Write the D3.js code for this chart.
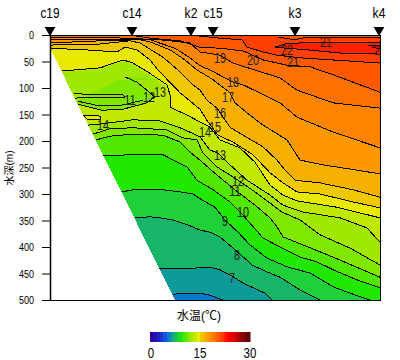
<!DOCTYPE html>
<html>
<head>
<meta charset="utf-8">
<script src="https://cdn.jsdelivr.net/npm/d3@7"></script>
<style>
body { margin: 0; background: #fff; }
text { font-family: "Liberation Sans", "Noto Sans CJK JP", sans-serif; fill: #000; }
</style>
</head>
<body>
<div id="chart"></div>
<script>
// stations along the section (distance, name)
const stationNames = ["c19", "c14", "k2", "c15", "k3", "k4"];
const stationDist = [0, 82, 141, 163, 245, 329];
const depthTicks = [0, 50, 100, 150, 200, 250, 300, 350, 400, 450, 500];
const seabed = [[0, 25], [125, 500], [0, 500]];

// one colour per degree, 0-30
const bandColors = ["#2a00a0", "#2410ac", "#1c24bc", "#1838cc", "#1050e0", "#0878d0", "#0f9a9a", "#18b468", "#20d038", "#20e800",
    "#50e800", "#80e800", "#a0e800", "#c0e800", "#e8e800", "#f0c800", "#f8b000", "#ff9800", "#ff8400", "#ff7000",
    "#ff5800", "#ff4000", "#ff2000", "#ff0000", "#e80000", "#d00000", "#b00000", "#900000", "#780000", "#600000"];

// isotherms as [distance, depth(m)]
const iso6 = [[123,489],[140,487],[150,487],[160,491],[167,496],[173,500]];
const iso7 = [[109,440],[125,440],[143,440],[160,438],[170,443],[182,455],[195,470],[215,487],[222,500]];
const iso8 = [[85,345],[100,343],[110,345],[123,349],[140,360],[150,368],[160,372],[170,381],[183,402],[197,425],[202,434],[217,447],[230,457],[250,481],[270,500]];
const iso9 = [[72,296],[83,292],[113,292],[130,296],[143,300],[150,309],[165,325],[175,349],[188,372],[200,396],[217,421],[238,438],[260,449],[283,475],[310,494],[320,500]];
const iso10 = [[53,228],[80,226],[113,226],[137,249],[147,274],[163,292],[180,315],[193,340],[213,383],[230,400],[250,419],[267,428],[283,443],[307,462],[330,477]];
const iso11 = [[46,198],[60,191],[83,187],[113,189],[130,202],[140,221],[150,236],[163,258],[185,292],[205,321],[220,345],[227,362],[233,381],[253,396],[283,419],[330,457]];
const iso12 = [[43,187],[60,177],[83,175],[117,179],[133,194],[147,198],[153,223],[167,249],[180,264],[188,274],[205,296],[220,317],[232,334],[250,349],[270,377],[300,402],[330,434]];
const iso13 = [[38,170],[50,168],[83,160],[110,162],[130,175],[150,192],[160,217],[168,223],[180,245],[197,274],[220,302],[233,321],[253,334],[290,345],[317,364],[330,391]];
const iso14 = [[12,68],[50,62],[73,47],[83,53],[98,70],[117,94],[120,113],[120,136],[137,151],[150,164],[160,174],[170,198],[190,213],[205,240],[220,283],[233,302],[247,313],[287,325],[330,345]];
const iso15 = [[1,25],[35,28],[67,32],[75,23],[87,28],[100,47],[108,66],[130,109],[150,140],[158,164],[168,189],[183,202],[203,226],[208,236],[220,260],[233,279],[247,296],[270,300],[303,315],[330,326]];
const iso16 = [[0,19],[50,17],[80,11],[90,15],[113,42],[128,66],[143,94],[150,104],[157,123],[167,138],[180,174],[193,189],[213,211],[227,236],[235,255],[245,274],[270,279],[303,292],[330,306]];
const iso17 = [[0,15],[50,11],[90,9],[100,13],[120,28],[135,47],[147,66],[162,83],[180,109],[185,128],[197,147],[213,170],[237,198],[250,236],[273,245],[307,255],[330,262]];
const iso18 = [[0,9],[50,8],[100,9],[125,25],[140,43],[150,58],[160,66],[183,89],[193,94],[230,128],[247,155],[283,183],[330,213]];
const iso19 = [[0,4],[50,4],[110,9],[140,15],[150,32],[170,38],[183,53],[230,81],[247,104],[283,128],[330,138]];
const iso20 = [[80,0],[100,6],[130,11],[150,23],[170,25],[193,30],[213,47],[237,57],[260,60],[283,75],[330,108]];
const iso21 = [[140,0],[170,6],[192,9],[197,23],[213,32],[227,38],[250,43],[330,53]];

const isoLevels = [6, 7, 8, 9, 10, 11, 12, 13, 14, 15, 16, 17, 18, 19, 20, 21];
const isoLines = [iso6, iso7, iso8, iso9, iso10, iso11, iso12, iso13, iso14, iso15, iso16, iso17, iso18, iso19, iso20, iso21];

// closed patches that do not follow the layering (inversions, warm core)
const surface21 = [[228,0],[228,4],[245,9],[257,4],[313,4],[330,4],[330,0]];
const core22 = [[225,23],[235,17],[250,15],[290,15],[330,15],[330,36],[290,34],[257,28],[237,25]];
const core23 = [[318,19],[330,19],[330,26],[322,23]];
const wedge14 = [[33,151],[50,153],[51,160],[38,160]];
const mid13 = [[12,70],[50,65],[73,50],[83,56],[96,72],[112,94],[105,117],[73,140],[52,142],[22,128]];
const cold13 = [[68,85],[118,85],[75,79],[87,89],[93,98],[105,117],[97,128],[73,140],[52,142],[22,128]];
const cold12 = [[93,123],[73,132],[50,134],[28,125]];
const cold11a = [[24,111],[73,113],[75,117]];
const cold11b = [[75,117],[24,119]];

// contour labels
const labelText = ["7","8","9","10","11","12","13","14","15","16","17","18","19","20","21","22","21","2","11","12","13","14"];
const labelDist = [182,187,175,193,185,188,170,155,165,170,178,183,170,203,243,237,276,327,80,99,110,53];
const labelDepth = [458,415,351,334,294,275,226,183,174,147,117,89,43,47,51,28,13,28,123,117,108,170];

const width = 400, height = 360;
const svg = d3.select("#chart").append("svg").attr("width", width).attr("height", height);

const x = d3.scaleLinear().domain([0, 330]).range([50, 380]);
const y = d3.scaleLinear().domain([0, 500]).range([35, 300]);
const line = d3.line().x(d => x(d[0])).y(d => y(d[1]));

const plot = svg.append("g").attr("shape-rendering", "crispEdges");

// fill everything above each isotherm with its band colour, coldest first
plot.append("rect").attr("x", x(0)).attr("y", y(0)).attr("width", x(330) - x(0)).attr("height", y(500) - y(0))
    .attr("fill", bandColors[5]);

isoLines.forEach((pts, i) => {
    let closing = [];
    if (pts[pts.length - 1][1] >= 500) closing.push([330, 500]);
    closing.push([330, 0]);
    if (pts[0][1] > 0) closing.push([0, 0], [0, pts[0][1]]);
    plot.append("path").attr("d", line(pts.concat(closing)) + "Z").attr("fill", bandColors[isoLevels[i]]);
});

plot.append("path").attr("d", line(mid13) + "Z").attr("fill", bandColors[12]);
plot.append("path").attr("d", line(cold13) + "Z").attr("fill", bandColors[11]);
[[surface21, 20], [core22, 22], [core23, 23], [wedge14, 14]].forEach(p => {
    plot.append("path").attr("d", line(p[0]) + "Z").attr("fill", bandColors[p[1]]);
});

// contour lines
const strokes = isoLines.concat([surface21.slice(1, 6), cold13.slice(2), cold12, cold11a, cold11b,
    core22.concat([core22[0]]), core23, wedge14.concat([wedge14[0]])]);
plot.selectAll("path.iso").data(strokes).enter().append("path")
    .attr("class", "iso")
    .attr("d", d => line(d))
    .attr("fill", "none")
    .attr("stroke", "#000")
    .attr("stroke-width", 1);

// land
plot.append("path").attr("d", line(seabed) + "Z").attr("fill", "#fff");

// frame and axes
const yAxis = d3.axisLeft(y).tickValues(depthTicks).tickSize(8).tickSizeOuter(0).tickPadding(8);
svg.append("g").attr("transform", `translate(${x(0)},0)`).call(yAxis)
    .call(g => g.selectAll("text").style("font-size", "11px").style("font-family", null)
        .attr("textLength", d => String(d).length * 5).attr("lengthAdjust", "spacingAndGlyphs"))
    .call(g => g.select(".domain").attr("stroke-width", 1.5));
svg.append("path").attr("d", line([[0, 0], [330, 0], [330, 500], [0, 500]]))
    .attr("fill", "none").attr("stroke", "#000").attr("shape-rendering", "crispEdges");

// station markers
svg.selectAll("path.station").data(stationDist).enter().append("path")
    .attr("class", "station")
    .attr("d", d3.symbol(d3.symbolTriangle, 50))
    .attr("transform", d => `translate(${x(d)},30) rotate(180)`)
    .attr("fill", "#000");
svg.selectAll("text.station").data(stationNames).enter().append("text")
    .attr("class", "station")
    .attr("x", (d, i) => x(stationDist[i]))
    .attr("y", 18)
    .attr("text-anchor", "middle")
    .attr("textLength", d => d.length * 6.4)
    .attr("lengthAdjust", "spacingAndGlyphs")
    .style("font-size", "14px")
    .text(d => d);

// contour labels
svg.selectAll("text.label").data(labelText).enter().append("text")
    .attr("class", "label")
    .attr("x", (d, i) => x(labelDist[i]))
    .attr("y", (d, i) => y(labelDepth[i]))
    .attr("dy", "0.36em")
    .attr("text-anchor", "middle")
    .attr("textLength", d => d.length * 6)
    .attr("lengthAdjust", "spacingAndGlyphs")
    .style("font-size", "14px")
    .style("fill", "#222")
    .text(d => d);

svg.append("text").attr("transform", "translate(13,168) rotate(-90)")
    .attr("text-anchor", "middle").style("font-size", "10px").text("水深(m)");
svg.append("text").attr("x", 199).attr("y", 320)
    .attr("text-anchor", "middle").style("font-size", "12px").text("水温(℃)");

// colour bar
const barScale = d3.scaleBand().domain(d3.range(30)).range([150, 250]);
svg.selectAll("rect.bar").data(bandColors).enter().append("rect")
    .attr("class", "bar")
    .attr("x", (d, i) => barScale(i))
    .attr("y", 332)
    .attr("width", barScale.bandwidth() + 0.5)
    .attr("height", 10)
    .attr("fill", d => d);
const barAxis = d3.scaleLinear().domain([0, 30]).range([150, 250]);
svg.selectAll("text.bar").data([0, 15, 30]).enter().append("text")
    .attr("class", "bar")
    .attr("x", d => barAxis(d) + (d === 0 ? 1 : 0))
    .attr("y", 358)
    .attr("text-anchor", "middle")
    .attr("textLength", d => String(d).length * 6.4)
    .attr("lengthAdjust", "spacingAndGlyphs")
    .style("font-size", "14px")
    .text(d => d);
</script>
</body>
</html>
